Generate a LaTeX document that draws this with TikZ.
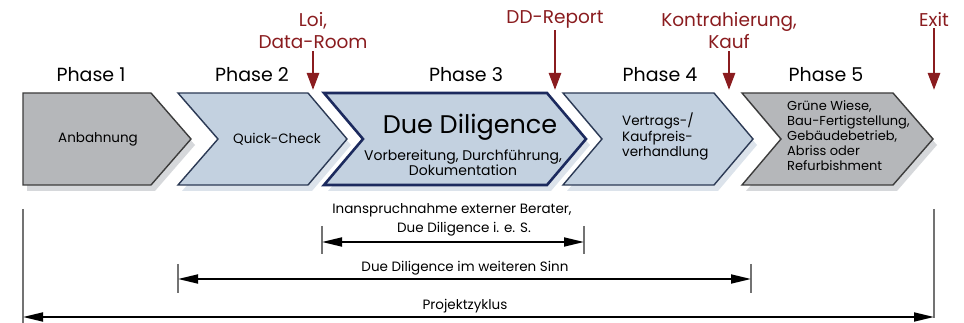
\documentclass[tikz,border=0pt]{standalone}
\usepackage{fontspec}
\setmainfont{Poppins}
\usetikzlibrary{arrows.meta, positioning}
\definecolor{phgray}{HTML}{B5B7BA}
\definecolor{phgrayline}{HTML}{3C3C3C}
\definecolor{phblue}{HTML}{C3D1E0}
\definecolor{phblueline}{HTML}{2C3A55}
\definecolor{phnavy}{HTML}{1C2A5E}
\definecolor{shgray}{HTML}{D6D8DB}
\definecolor{shblue}{HTML}{DCE3EB}
\definecolor{mark}{HTML}{8A1C1F}

\begin{document}
\begin{tikzpicture}[
    x=1pt, y=-1pt,
    phshadow/.style={preaction={fill=#1, draw=none, transform canvas={shift={(4pt,-6pt)}}}},
    graybox/.style={phshadow=shgray, fill=phgray, draw=phgrayline, line width=1.4pt, line join=miter},
    bluebox/.style={phshadow=shblue, fill=phblue, draw=phblueline, line width=1.4pt, line join=miter},
    ddbox/.style={phshadow=shblue, fill=phblue, draw=phnavy, line width=2.6pt, line join=miter},
    phlabel/.style={font=\fontsize{19}{21}\selectfont, inner sep=1pt},
    milestone/.style={font=\fontsize{18.5}{22}\selectfont, text=mark, align=center, inner sep=2pt},
    mkarrow/.style={draw=mark, line width=2.6pt, -{Triangle[length=17pt, width=12pt]}},
    intext/.style={font=\fontsize{13.5}{15}\selectfont, align=center, inner sep=0pt},
    sidetext/.style={font=\fontsize{13.5}{15.5}\selectfont, align=left, anchor=north west, inner sep=0pt},
    spantext/.style={font=\fontsize{13.5}{15}\selectfont, inner sep=0pt},
    spanarrow/.style={line width=1.8pt, {Triangle[length=20pt, width=9pt]}-{Triangle[length=20pt, width=9pt]}},
    tick/.style={draw=black!55, line width=1.4pt}
  ]
    \useasboundingbox (0,0) rectangle (964,323);

    % Phases
    \path[graybox] (23,93) -- (151,93) -- (191,139) -- (151,185) -- (23,185) -- cycle;
    \path[bluebox] (178,93) -- (308,93) -- (347,139) -- (308,185) -- (178,185) -- (218,139) -- cycle;
    \path[ddbox] (324,93) -- (547,93) -- (586,139) -- (547,185) -- (324,185) -- (363,139) -- cycle;
    \path[bluebox] (563,93) -- (714,93) -- (753,139) -- (714,185) -- (563,185) -- (602,139) -- cycle;
    \path[graybox] (742,93) -- (893,93) -- (933,139) -- (893,185) -- (742,185) -- (781,139) -- cycle;

    % Texts in the phases
    \node[intext] (anb) at (98,139) {Anbahnung};
    \node[intext] (qc) at (277,139) {Quick-Check};
    \node[intext, font=\fontsize{25.5}{28}\selectfont] (dd) at (470,127) {Due Diligence};
    \node[intext, font=\fontsize{14}{15}\selectfont] (ddsub) at (463,163) {Vorbereitung, Durchführung,\\Dokumentation};
    \node[sidetext] (kpv) at (622,113) {Vertrags-/\\Kaufpreis-\\verhandlung};
    \node[sidetext, font=\fontsize{13}{15.2}\selectfont] (nutz) at (787,100) {Grüne Wiese,\\Bau-Fertigstellung,\\Gebäudebetrieb,\\Abriss oder\\Refurbishment};

    % Phase labels
    \node[phlabel] (ph1) at (91,75) {Phase 1};
    \node[phlabel] (ph2) at (252,75) {Phase 2};
    \node[phlabel] (ph3) at (466,75) {Phase 3};
    \node[phlabel] (ph4) at (660,75) {Phase 4};
    \node[phlabel] (ph5) at (826,75) {Phase 5};

    % Milestones
    \node[milestone] (loi) at (313,31) {Loi,\\Data-Room};
    \node[milestone] (ddr) at (555,19) {DD-Report};
    \node[milestone] (kauf) at (729,31) {Kontrahierung,\\Kauf};
    \node[milestone] (exit) at (934,19) {Exit};
    \coordinate (loi-m) at (313,90);
    \coordinate (ddr-m) at (555,90);
    \coordinate (kauf-m) at (729,90);
    \coordinate (exit-m) at (934,90);
    \draw[mkarrow] (loi) -- (loi-m);
    \draw[mkarrow] (ddr) -- (ddr-m);
    \draw[mkarrow] (kauf) -- (kauf-m);
    \draw[mkarrow] (exit) -- (exit-m);

    % Spans
    \coordinate (s1l) at (322,242);
    \coordinate (s1r) at (584,242);
    \coordinate (s2l) at (178,279);
    \coordinate (s2r) at (751,279);
    \coordinate (s3l) at (23,317);
    \coordinate (s3r) at (934,317);
    \draw[tick] (322,226) -- (322,254);
    \draw[tick] (584,226) -- (584,254);
    \draw[tick] (178,264) -- (178,293);
    \draw[tick] (751,264) -- (751,293);
    \draw[tick] (23,209) -- (23,323);
    \draw[tick] (934,209) -- (934,318);
    \draw[spanarrow] (s1l) -- (s1r);
    \draw[spanarrow] (s2l) -- (s2r);
    \draw[spanarrow] (s3l) -- (s3r);
    \node[spantext] (ext) at (452,210) {Inanspruchnahme externer Berater,};
    \node[spantext] (ddes) at (464,229) {Due Diligence i. e. S.};
    \node[spantext] (ddws) at (465,268) {Due Diligence im weiteren Sinn};
    \node[spantext] (pz) at (465,306) {Projektzyklus};
  \end{tikzpicture}
\end{document}
